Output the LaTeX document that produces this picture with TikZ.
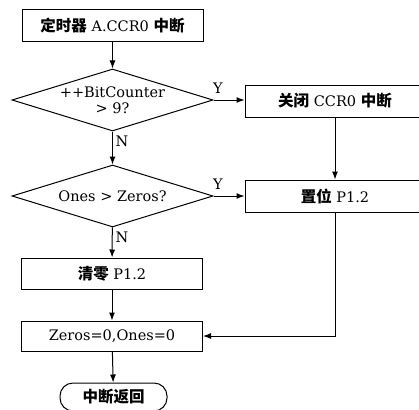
\documentclass[tikz,border=0pt]{standalone}
\usepackage{fontspec}
\setmainfont{DejaVu Serif}
\newfontfamily\cjk{Noto Sans CJK SC}
\usetikzlibrary{shapes.geometric,arrows.meta}
\newcommand\flowfont{\fontsize{14.5}{16.5}\selectfont}
\newcommand\zhtext[1]{{\cjk\bfseries\fontsize{15.5}{16.5}\selectfont #1}}
\tikzset{
  line/.style={draw, line width=1pt, -{Latex[length=8pt,width=6pt]}},
  box/.style={draw, line width=1pt, rectangle, minimum width=181pt, minimum height=32pt, inner sep=0pt, font=\flowfont},
  cond/.style={draw, line width=1pt, diamond, aspect=3.2, minimum width=201pt, minimum height=62pt, inner sep=0pt, align=center, font=\flowfont},
  term/.style={draw, line width=1pt, rectangle, rounded corners=13pt, minimum width=107pt, minimum height=28pt, inner sep=0pt, font=\flowfont},
  lab/.style={font=\flowfont, inner sep=1pt},
}
\begin{document}
\begin{tikzpicture}[x=1pt,y=-1pt]
  \useasboundingbox (0,0) rectangle (419,409);
  % main column
  \node[box] (isr) at (112.5,26) {\zhtext{定时器} A.CCR0 \zhtext{中断}};
  \node[cond] (count) at (112.5,100) {++BitCounter\\> 9?};
  \node[cond] (cmp) at (112.5,196) {Ones > Zeros?};
  \node[box, minimum height=31pt] (clr) at (112,273.5) {\zhtext{清零} P1.2};
  \node[box, minimum height=30pt] (reset) at (112,336) {Zeros=0,Ones=0};
  \node[term] (ret) at (113.5,397) {\zhtext{中断返回}};
  % right column
  \node[box, minimum width=180pt] (off) at (335,101) {\zhtext{关闭} CCR0 \zhtext{中断}};
  \node[box, minimum width=180pt] (set) at (335,196) {\zhtext{置位} P1.2};
  % connectors
  \draw[line] (isr) -- (count);
  \draw[line] (count.east) -- (off.west |- count.east);
  \draw[line] (count) -- (cmp);
  \draw[line] (cmp.east) -- (set.west |- cmp.east);
  \draw[line] (off) -- (set);
  \draw[line] (cmp) -- (clr);
  \draw[line] (clr) -- (reset);
  \draw[line] (set.south) |- (reset.east);
  \draw[line] (reset) -- (ret);
  % branch labels
  \node[lab] (y1) at (218,88) {Y};
  \node[lab] (n1) at (122,141) {N};
  \node[lab] (y2) at (218,184) {Y};
  \node[lab] (n2) at (122,237) {N};
\end{tikzpicture}
\end{document}
